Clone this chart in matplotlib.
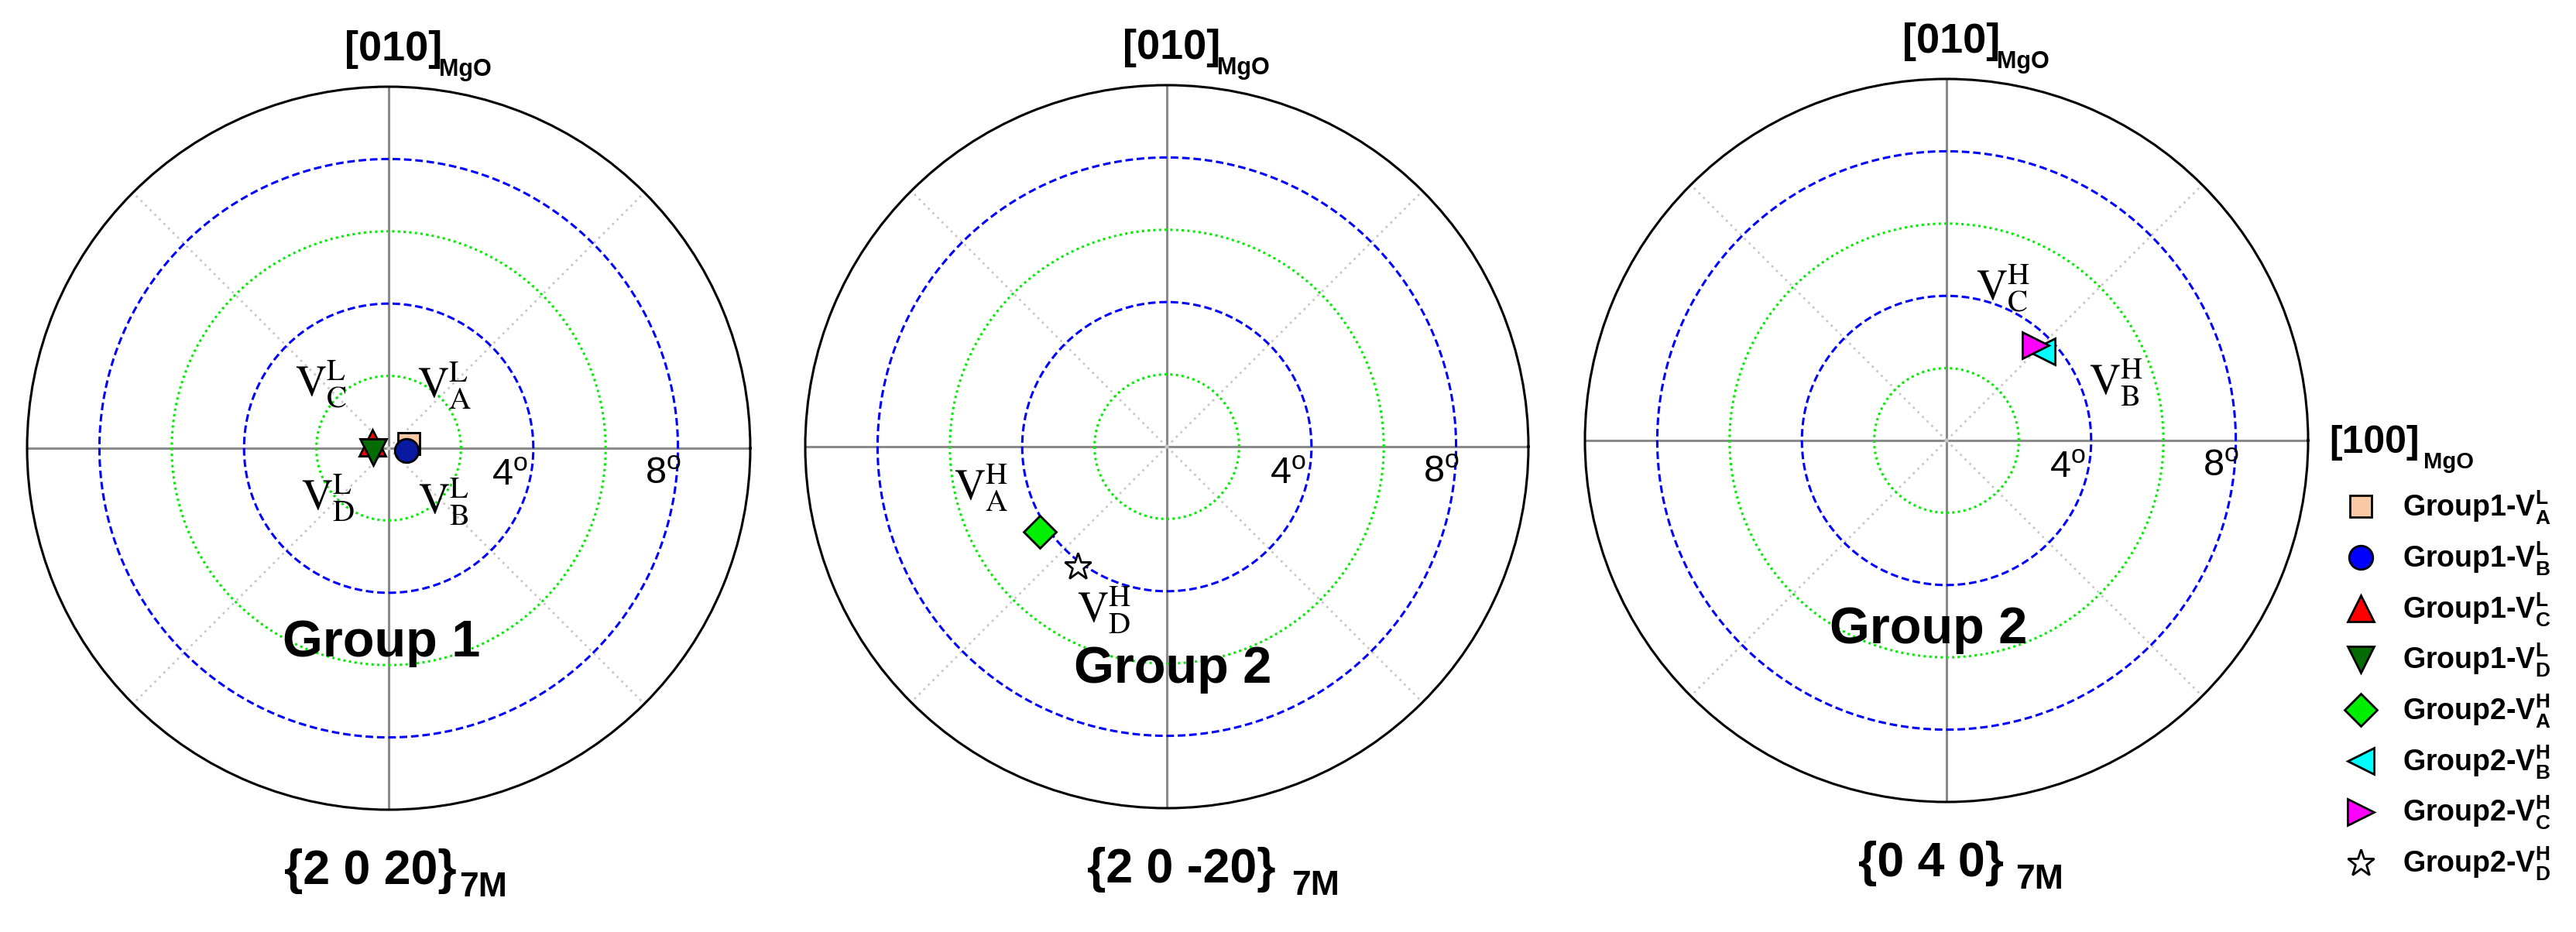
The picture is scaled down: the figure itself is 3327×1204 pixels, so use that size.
"""Pole-figure style polar plots of variant tilts for three reflections."""
import numpy as np
import matplotlib
matplotlib.use('Agg')
import matplotlib.pyplot as plt
from matplotlib.lines import Line2D

plt.rcParams['font.family'] = ['Liberation Sans', 'DejaVu Sans']
plt.rcParams['mathtext.fontset'] = 'custom'
plt.rcParams['mathtext.rm'] = 'Liberation Sans'
plt.rcParams['mathtext.bf'] = 'Liberation Sans:bold'
plt.rcParams['mathtext.it'] = 'Liberation Sans:italic'

# ---- data -------------------------------------------------------------
legend_labels = [r'Group1-V$_{\mathbf{A}}^{\mathbf{L}}$',
                 r'Group1-V$_{\mathbf{B}}^{\mathbf{L}}$',
                 r'Group1-V$_{\mathbf{C}}^{\mathbf{L}}$',
                 r'Group1-V$_{\mathbf{D}}^{\mathbf{L}}$',
                 r'Group2-V$_{\mathbf{A}}^{\mathbf{H}}$',
                 r'Group2-V$_{\mathbf{B}}^{\mathbf{H}}$',
                 r'Group2-V$_{\mathbf{C}}^{\mathbf{H}}$',
                 r'Group2-V$_{\mathbf{D}}^{\mathbf{H}}$']
# panel index (0: {2 0 20}, 1: {2 0 -20}, 2: {0 4 0}), azimuth (deg), tilt (deg)
series_panel = [0, 0, 0, 0, 1, 2, 2, 1]
azimuth_deg = [12, 353, 161, 194, 214, 43, 47, 233.5]
tilt_deg = [0.58, 0.50, 0.47, 0.45, 4.23, 3.61, 3.60, 4.13]

plane_labels = ['{2 0 20}', '{2 0 -20}', '{0 4 0}']
group_titles = ['Group 1', 'Group 2', 'Group 2']
ring_radii = [2, 4, 6, 8]
ring_labels = ['4', '8']
variant_texts = [
    [r'$\mathrm{V}_{\mathrm{C}}^{\mathrm{L}}$', r'$\mathrm{V}_{\mathrm{A}}^{\mathrm{L}}$',
     r'$\mathrm{V}_{\mathrm{D}}^{\mathrm{L}}$', r'$\mathrm{V}_{\mathrm{B}}^{\mathrm{L}}$'],
    [r'$\mathrm{V}_{\mathrm{A}}^{\mathrm{H}}$', r'$\mathrm{V}_{\mathrm{D}}^{\mathrm{H}}$'],
    [r'$\mathrm{V}_{\mathrm{C}}^{\mathrm{H}}$', r'$\mathrm{V}_{\mathrm{B}}^{\mathrm{H}}$'],
]

# ---- styles / layout -------------------------------------------------
markers = ['s', 'o', '^', 'v', 'D', '<', '>', '*']
face_colors = ['#f8c9a4', '#0a1aa0', '#ff0000', '#056b05', '#00ee00', '#00ffff', '#ff00ff', '#ffffff']
legend_colors = ['#f8c9a4', '#0000ff', '#ff0000', '#056b05', '#00ee00', '#00ffff', '#ff00ff', '#ffffff']
marker_sizes = [20, 22, 25, 25, 21, 25, 25, 26]

# label positions as (x, y) in degrees of tilt
variant_xy = [[(-1.86, 1.78), (1.55, 1.73), (-1.68, -1.38), (1.53, -1.48)],
              [(-5.14, -1.14), (-1.74, -4.53)],
              [(1.57, 4.21), (4.69, 1.61)]]
group_xy = [(-0.2, -5.76), (0.17, -6.53), (-0.5, -5.6)]
ring_label_xy = [(3.36, -0.76), (7.6, -0.71)]

W, H = 3327, 1204
R_PX = 467
R_MAX = 10
centers = [(502, 579), (1507, 577), (2514, 569)]
# plane label: x (axes frac) where the main text ends / subscript starts
plane_split = [(0.594, 0.598), (0.650, 0.672), (0.579, 0.595)]


def to_polar(x, y):
    return np.arctan2(y, x), np.hypot(x, y)


fig = plt.figure(figsize=(W / 100, H / 100), dpi=100)
theta = np.linspace(0, 2 * np.pi, 721)

for p, (cx, cy) in enumerate(centers):
    ax = fig.add_axes([(cx - R_PX) / W, (H - cy - R_PX) / H, 2 * R_PX / W, 2 * R_PX / H],
                      projection='polar')
    ax.set_ylim(0, R_MAX)
    ax.set_yticks([])
    ax.set_xticks(np.deg2rad(np.arange(0, 360, 45)))
    ax.set_xticklabels([])
    ax.grid(False)
    ax.tick_params(axis='x', direction='in', length=9, width=2, colors='k')
    ax.spines['polar'].set_linewidth(2.2)
    ax.spines['polar'].set_color('black')

    # spokes
    for a in [0, 90, 180, 270]:
        ax.plot([np.deg2rad(a)] * 2, [0, R_MAX], color='#8a8a8a', lw=2.2, zorder=1)
    for a in [45, 135, 225, 315]:
        ax.plot([np.deg2rad(a)] * 2, [0, R_MAX], color='#c8c8c8', lw=2.0,
                ls=(0, (1, 2)), zorder=1)
    # rings
    for r in ring_radii:
        if r % 4 == 0:
            ax.plot(theta, np.full_like(theta, r), color='#0000ff', lw=2.2,
                    ls=(0, (3.2, 1.6)), zorder=2)
        else:
            ax.plot(theta, np.full_like(theta, r), color='#00ee00', lw=2.2,
                    ls=(0, (1, 1.4)), zorder=2)

    for i in range(len(markers)):
        if series_panel[i] != p:
            continue
        ax.plot(np.deg2rad(azimuth_deg[i]), tilt_deg[i], ls='none', marker=markers[i],
                ms=marker_sizes[i], mfc=face_colors[i], mec='black', mew=2, zorder=5)

    for txt, (x, y) in zip(variant_texts[p], variant_xy[p]):
        t, r = to_polar(x, y)
        ax.text(t, r, txt, fontsize=40, ha='center', va='center', math_fontfamily='stix',
                zorder=6)
    for lab, (x, y) in zip(ring_labels, ring_label_xy):
        t, r = to_polar(x, y)
        ax.text(t, r, lab + r'$^{\mathrm{o}}$', fontsize=35, ha='center', va='center', zorder=6)
    t, r = to_polar(*group_xy[p])
    ax.text(t, r, group_titles[p], fontsize=48, fontweight='bold', ha='center',
            va='baseline', zorder=6)

    # direction label on top
    ax.text(0.439, 1.036, '[010]', transform=ax.transAxes, fontsize=39,
            fontweight='bold', ha='left', va='baseline')
    ax.text(0.570, 1.015, 'MgO', transform=ax.transAxes, fontsize=22,
            fontweight='bold', ha='left', va='baseline')
    # plane label below
    xs_main, xs_sub = plane_split[p]
    ax.text(xs_main, -0.103, plane_labels[p], transform=ax.transAxes, fontsize=45,
            fontweight='bold', ha='right', va='baseline')
    ax.text(xs_sub, -0.120, '7M', transform=ax.transAxes, fontsize=32,
            fontweight='bold', ha='left', va='baseline')

fig.text(3008 / W, 1 - 585 / H, '[100]', fontsize=36, fontweight='bold',
         ha='left', va='baseline')
fig.text(3130 / W, 1 - 605 / H, 'MgO', fontsize=21, fontweight='bold',
         ha='left', va='baseline')

handles = [Line2D([], [], ls='none', marker=m, ms=s, mfc=c, mec='black', mew=2)
           for m, s, c in zip(markers, marker_sizes, legend_colors)]
fig.legend(handles, legend_labels, loc='upper left', bbox_to_anchor=(3032 / W, 1 - 632 / H),
           frameon=False, prop={'family': 'Liberation Sans', 'weight': 'bold', 'size': 27},
           handlelength=0.9, handletextpad=1.0, labelspacing=0.47, borderpad=0,
           borderaxespad=0)

fig.savefig('out.png', dpi=100)
